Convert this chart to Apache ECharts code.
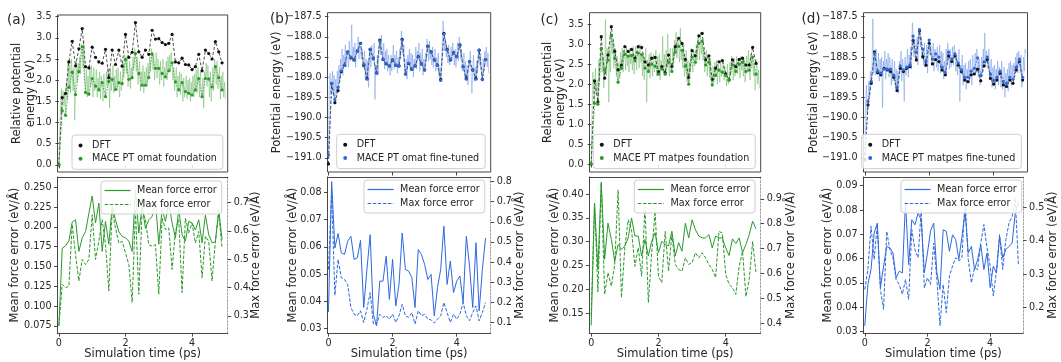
<!DOCTYPE html>
<html><head><meta charset="utf-8">
<script src="https://cdn.jsdelivr.net/npm/echarts@6/dist/echarts.min.js"></script>
<style>html,body{margin:0;padding:0;background:#fff}#c{width:1061px;height:362px}</style>
</head><body><div id="c"></div><script>
// ---------------- DATA ----------------
const TIME = [0,0.1,0.2,0.3,0.4,0.5,0.6,0.7,0.8,0.9,1.0,1.1,1.2,1.3,1.4,1.5,1.6,1.7,1.8,1.9,2.0,2.1,2.2,2.3,2.4,2.5,2.6,2.7,2.8,2.9,3.0,3.1,3.2,3.3,3.4,3.5,3.6,3.7,3.8,3.9,4.0,4.1,4.2,4.3,4.4,4.5,4.6,4.7,4.8,4.9];
const FINE_DT = 0.025; // sampling interval of the continuous MACE trajectory

const A_DFT = [0,1.59,1.69,2.43,2.92,2.34,2.74,3.22,2.32,2.29,2.78,2.54,2.43,2.40,2.73,2.06,2.71,2.37,2.71,2.33,3.08,2.54,2.66,3.36,2.67,2.54,2.71,2.61,3.18,2.97,2.98,2.89,2.84,2.87,3.08,2.43,2.41,2.52,2.37,2.36,2.25,2.32,2.61,2.22,2.71,2.63,2.50,2.91,2.67,2.41];
const A_MACE = [0,1.28,1.17,1.83,2.19,1.66,2.20,2.79,1.71,1.67,2.04,1.86,1.77,1.94,1.61,1.97,2.02,1.78,1.94,1.92,2.49,2.02,2.06,2.63,2.16,1.88,1.88,2.06,2.62,2.28,2.28,2.16,2.08,2.22,2.41,1.96,1.77,1.94,1.73,1.69,1.65,1.77,2.04,1.61,2.04,2.03,1.84,2.32,2.06,1.77];
const A_FINE = [0,0.7,1.45,1.8, 1.28,1.75,1.4,1.65, 1.17,1.95,1.55,2.45, 1.83,2.35,1.7,2.5, 2.19,1.75,2.3,1.05, 1.66,2.45,1.95,2.4, 2.20,2.55,2.15,2.85, 2.79,2.3,2.95,2.05, 1.71,2.25,1.6,2.1, 1.67,2.3,1.85,2.35,
 2.04,1.6,2.3,1.75, 1.86,2.25,1.6,2.05, 1.77,2.2,1.55,2.1, 1.94,1.5,2.15,1.85, 1.61,2.2,1.85,2.3, 1.97,1.35,2.25,1.75, 2.02,2.35,1.7,2.1, 1.78,2.25,1.75,2.3, 1.94,1.6,2.2,1.75, 1.92,2.4,2.05,2.6,
 2.49,2.15,2.6,1.85, 2.02,2.45,1.8,2.3, 2.06,2.55,2.25,2.75, 2.63,2.2,2.55,1.9, 2.16,2.45,1.75,2.2, 1.88,2.35,1.7,2.2, 1.88,2.3,1.85,2.4, 2.06,2.55,2.2,2.75, 2.62,2.25,2.6,2.0, 2.28,2.65,2.05,2.5,
 2.28,1.9,2.45,2.0, 2.16,2.5,1.85,2.3, 2.08,2.45,2.0,2.55, 2.22,2.6,2.2,2.65, 2.41,2.0,2.3,1.75, 1.96,2.3,1.6,2.1, 1.77,2.2,1.65,2.15, 1.94,1.5,2.05,1.6, 1.73,2.1,1.55,2.0, 1.69,2.05,1.5,1.95,
 1.65,2.1,1.6,2.15, 1.77,2.25,1.7,2.3, 2.04,1.6,2.2,1.75, 1.61,2.05,1.35,2.2, 2.04,2.4,1.85,2.35, 2.03,1.6,2.2,1.5, 1.84,2.3,1.75,2.5, 2.32,1.9,2.45,1.8, 2.06,2.3,1.55,2.1, 1.77,2.2,1.6,1.95, 1.55];

const B_DFT = [-191.15,-189.15,-189.63,-189.33,-188.86,-188.70,-188.37,-188.52,-188.57,-188.35,-188.16,-188.70,-189.03,-188.31,-188.53,-188.89,-188.08,-188.56,-188.67,-188.72,-188.57,-188.70,-188.72,-188.06,-188.92,-188.66,-188.80,-188.72,-188.49,-188.67,-188.82,-188.23,-188.37,-188.57,-188.70,-189.05,-187.91,-188.31,-188.57,-188.39,-188.49,-188.20,-188.74,-189.03,-188.61,-188.82,-189.03,-188.33,-189.05,-188.56];
const B_MACE = [-190.93,-189.15,-189.56,-189.25,-188.84,-188.70,-188.38,-188.50,-188.57,-188.36,-188.17,-188.68,-189.05,-188.30,-188.52,-188.90,-188.10,-188.55,-188.66,-188.72,-188.56,-188.70,-188.72,-188.08,-188.92,-188.65,-188.80,-188.72,-188.50,-188.67,-188.82,-188.24,-188.38,-188.57,-188.70,-189.08,-187.93,-188.32,-188.57,-188.40,-188.49,-188.21,-188.74,-189.05,-188.62,-188.82,-189.05,-188.33,-189.06,-188.56];
const B_FINE = [-190.93,-189.3,-188.9,-189.4, -189.15,-188.85,-189.45,-188.95, -189.56,-189.05,-189.4,-188.85, -189.25,-188.7,-189.1,-188.55, -188.84,-188.3,-188.95,-188.45, -188.70,-188.2,-188.75,-188.35, -188.38,-188.75,-188.1,-188.6, -188.50,-187.7,-188.6,-188.25, -188.57,-188.15,-188.75,-188.3, -188.36,-188.0,-188.55,-188.2,
 -188.17,-188.55,-188.3,-188.75, -188.68,-188.35,-189.0,-188.55, -189.05,-188.6,-189.25,-188.7, -188.30,-188.75,-188.2,-188.6, -188.52,-188.15,-189.55,-188.7, -188.90,-188.45,-188.95,-188.3, -188.10,-188.45,-187.95,-188.35, -188.55,-188.15,-188.8,-188.35, -188.66,-188.3,-188.85,-188.45, -188.72,-188.95,-188.45,-188.85,
 -188.56,-188.2,-188.8,-188.45, -188.70,-188.35,-188.9,-188.5, -188.72,-188.3,-188.55,-187.85, -188.08,-188.45,-188.2,-188.65, -188.92,-188.55,-189.05,-188.45, -188.65,-188.3,-188.85,-188.4, -188.80,-188.45,-189.0,-188.55, -188.72,-188.25,-188.8,-188.35, -188.50,-188.15,-188.85,-188.4, -188.67,-188.3,-188.95,-188.55,
 -188.82,-188.4,-188.55,-188.05, -188.24,-188.6,-188.1,-188.55, -188.38,-188.7,-188.25,-188.75, -188.57,-188.3,-188.85,-188.5, -188.70,-188.4,-189.0,-188.75, -189.08,-188.55,-188.2,-187.6, -187.93,-188.35,-188.05,-188.5, -188.32,-188.65,-188.2,-188.7, -188.57,-188.25,-188.6,-188.15, -188.40,-188.7,-188.3,-188.75,
 -188.49,-188.15,-188.6,-188.0, -188.21,-188.55,-188.3,-188.85, -188.74,-188.4,-189.0,-188.6, -189.05,-188.7,-189.2,-188.8, -188.62,-188.35,-188.95,-189.4, -188.82,-188.45,-189.1,-188.75, -189.05,-188.6,-188.9,-188.45, -188.33,-188.7,-188.4,-188.95, -189.06,-188.55,-188.8,-188.35, -188.56,-188.25,-188.75,-188.4, -188.9];

const C_DFT = [0,2.08,1.56,3.19,2.15,2.73,3.44,2.82,2.36,2.48,2.94,2.82,2.87,2.65,2.94,2.92,2.56,2.48,2.65,2.67,2.31,2.44,2.29,2.73,2.44,2.94,3.15,3.02,2.62,2.17,2.84,2.71,3.21,3.27,2.61,2.71,2.12,2.40,2.56,2.59,2.26,2.11,2.61,2.44,2.62,2.65,2.48,2.48,2.92,2.52];
const C_MACE = [0,1.52,1.50,2.90,2.35,2.60,3.22,2.65,2.05,2.40,2.75,2.70,2.72,2.58,2.78,2.74,2.40,2.32,2.50,2.45,2.25,2.38,2.25,2.55,2.32,2.80,2.95,2.85,2.45,2.00,2.68,2.55,3.02,3.08,2.48,2.55,1.98,2.22,2.35,2.30,2.22,2.10,2.48,2.32,2.50,2.55,2.32,2.35,2.68,2.25];
const C_FINE = [0,1.2,2.3,1.9, 1.52,2.4,1.75,2.1, 1.50,2.6,2.05,2.75, 2.90,2.3,2.7,1.9, 2.35,3.62,2.2,2.9, 2.60,1.55,2.85,2.3, 3.22,2.75,3.1,2.4, 2.65,2.9,2.2,2.7, 2.05,2.55,2.15,2.8, 2.40,2.9,2.3,2.85,
 2.75,2.35,2.95,2.45, 2.70,2.3,2.9,2.5, 2.72,2.35,2.95,2.25, 2.58,2.95,2.35,2.85, 2.78,2.4,3.0,2.55, 2.74,2.2,2.75,2.1, 2.40,2.9,1.55,2.6, 2.32,2.75,2.15,2.8, 2.50,2.2,2.75,2.3, 2.45,2.85,2.2,2.7,
 2.25,2.75,2.1,2.6, 2.38,3.2,2.3,2.75, 2.25,2.85,2.4,3.25, 2.55,2.2,2.9,2.4, 2.32,2.9,2.5,3.1, 2.80,3.3,2.65,3.1, 2.95,2.55,3.4,2.6, 2.85,2.4,3.0,2.2, 2.45,2.85,2.05,2.6, 2.00,2.55,2.3,2.9,
 2.68,2.3,2.85,2.45, 2.55,3.0,2.6,3.15, 3.02,2.6,3.3,2.75, 3.08,2.6,2.9,2.3, 2.48,2.85,2.2,2.7, 2.55,2.15,2.65,2.05, 1.98,2.45,2.05,2.55, 2.22,2.6,2.0,2.5, 2.35,2.05,2.55,2.2, 2.30,2.6,2.1,2.45,
 2.22,1.95,2.5,2.0, 2.10,2.55,2.2,2.7, 2.48,2.1,2.65,2.2, 2.32,2.7,2.25,2.6, 2.50,2.15,2.7,2.35, 2.55,2.2,2.6,2.05, 2.32,2.7,2.3,2.85, 2.35,2.1,2.75,2.4, 2.68,2.2,2.5,1.85, 2.25,2.6,2.0,2.35, 1.9];

const D_DFT = [-191.05,-189.69,-189.15,-188.37,-188.89,-188.94,-188.78,-188.82,-188.86,-189.00,-189.33,-188.78,-188.86,-188.78,-188.74,-188.09,-188.57,-187.85,-188.49,-188.70,-188.16,-188.67,-188.56,-188.61,-188.82,-188.94,-188.47,-188.61,-188.47,-188.70,-188.86,-189.07,-189.11,-188.94,-188.92,-188.80,-189.09,-188.72,-188.56,-189.03,-189.17,-189.07,-188.90,-189.19,-189.23,-189.07,-189.15,-188.82,-188.61,-189.07];
const D_MACE = [-190.90,-189.60,-189.10,-188.40,-188.85,-188.90,-188.80,-188.80,-188.80,-188.95,-189.25,-188.72,-188.82,-188.75,-188.70,-187.98,-188.38,-187.82,-188.30,-188.60,-188.08,-188.55,-188.42,-188.50,-188.75,-188.88,-188.38,-188.55,-188.42,-188.65,-188.82,-189.00,-189.00,-188.85,-188.78,-188.52,-188.95,-188.62,-188.50,-188.92,-189.08,-189.00,-188.85,-189.10,-189.15,-189.00,-189.05,-188.75,-188.55,-189.00];
const D_FINE = [-190.9,-189.6,-189.2,-189.9, -189.60,-189.1,-189.5,-188.85, -189.10,-188.7,-187.55,-188.9, -188.40,-188.95,-188.3,-188.75, -188.85,-188.4,-189.1,-188.55, -188.90,-188.5,-189.75,-188.6, -188.80,-188.35,-189.05,-188.55, -188.80,-188.4,-189.0,-188.5, -188.80,-189.2,-188.55,-189.1, -188.95,-188.6,-189.3,-188.8,
 -189.25,-188.85,-189.4,-188.6, -188.72,-188.35,-189.1,-188.55, -188.82,-189.6,-188.5,-188.95, -188.75,-188.3,-189.0,-188.45, -188.70,-188.25,-188.8,-187.65, -187.98,-188.5,-188.05,-188.6, -188.38,-188.0,-188.7,-187.85, -187.82,-188.25,-188.0,-188.55, -188.30,-188.7,-188.15,-188.75, -188.60,-188.2,-188.9,-188.35,
 -188.08,-188.45,-188.2,-188.7, -188.55,-188.15,-188.85,-188.3, -188.42,-188.75,-188.25,-188.85, -188.50,-188.2,-188.9,-188.35, -188.75,-188.4,-189.05,-188.6, -188.88,-188.3,-188.65,-188.15, -188.38,-188.8,-188.3,-188.75, -188.55,-188.25,-188.7,-188.2, -188.42,-188.85,-188.45,-188.95, -188.65,-188.3,-189.6,-188.7,
 -188.82,-188.45,-189.2,-188.7, -189.00,-188.65,-189.3,-188.8, -189.00,-188.6,-189.15,-188.55, -188.85,-189.2,-188.45,-188.95, -188.78,-188.4,-188.9,-188.3, -188.52,-189.0,-188.55,-189.2, -188.95,-188.5,-188.9,-188.3, -188.62,-187.9,-188.75,-188.35, -188.50,-188.8,-188.3,-189.0, -188.92,-188.55,-189.25,-188.75,
 -189.08,-188.7,-189.3,-188.8, -189.00,-188.6,-189.2,-188.75, -188.85,-189.25,-188.6,-189.3, -189.10,-188.75,-189.5,-188.9, -189.15,-188.8,-189.35,-188.65, -189.00,-188.6,-189.2,-188.7, -189.05,-188.65,-188.95,-188.5, -188.75,-188.4,-188.9,-188.35, -188.55,-188.9,-188.45,-189.25, -189.00,-188.5,-188.85,-188.3, -188.4];

const A_MEAN = [0.075,0.173,0.176,0.182,0.206,0.209,0.169,0.186,0.194,0.217,0.239,0.205,0.230,0.169,0.207,0.178,0.226,0.209,0.194,0.188,0.186,0.182,0.169,0.247,0.192,0.226,0.198,0.209,0.213,0.232,0.178,0.222,0.207,0.230,0.205,0.186,0.222,0.190,0.182,0.207,0.205,0.196,0.209,0.180,0.215,0.190,0.180,0.181,0.222,0.184];
const A_MAX = [0.265,0.411,0.399,0.405,0.622,0.516,0.423,0.499,0.481,0.499,0.657,0.499,0.563,0.639,0.551,0.388,0.674,0.610,0.557,0.563,0.522,0.481,0.347,0.674,0.376,0.674,0.639,0.551,0.546,0.551,0.376,0.645,0.604,0.610,0.464,0.598,0.639,0.382,0.645,0.592,0.627,0.557,0.598,0.435,0.581,0.563,0.423,0.563,0.663,0.540];
const B_MEAN = [0.0361,0.0840,0.0596,0.0649,0.0578,0.0572,0.0621,0.0639,0.0554,0.0560,0.0624,0.0377,0.0517,0.0645,0.0352,0.0310,0.0474,0.0474,0.0566,0.0407,0.0554,0.0383,0.0462,0.0651,0.0517,0.0511,0.0487,0.0377,0.0590,0.0572,0.0535,0.0480,0.0499,0.0346,0.0450,0.0517,0.0676,0.0462,0.0548,0.0432,0.0474,0.0493,0.0395,0.0639,0.0529,0.0377,0.0615,0.0365,0.0517,0.0633];
const B_MAX = [0.363,0.751,0.235,0.413,0.322,0.314,0.289,0.174,0.141,0.133,0.158,0.100,0.166,0.248,0.092,0.092,0.141,0.125,0.133,0.116,0.141,0.100,0.133,0.190,0.133,0.125,0.149,0.092,0.158,0.133,0.141,0.116,0.113,0.097,0.116,0.133,0.199,0.149,0.100,0.141,0.116,0.141,0.199,0.133,0.108,0.149,0.182,0.108,0.149,0.199];
const C_MEAN = [0.124,0.381,0.242,0.425,0.263,0.339,0.305,0.259,0.294,0.284,0.291,0.308,0.350,0.312,0.312,0.270,0.305,0.270,0.301,0.319,0.277,0.301,0.294,0.291,0.322,0.270,0.298,0.280,0.339,0.308,0.346,0.325,0.312,0.308,0.308,0.315,0.287,0.312,0.308,0.308,0.287,0.271,0.306,0.296,0.308,0.277,0.294,0.315,0.343,0.327];
const C_MAX = [0.43,0.883,0.525,0.963,0.516,0.603,0.549,0.636,0.936,0.503,0.703,0.816,0.776,0.629,0.703,0.589,0.869,0.483,0.683,0.849,0.589,0.563,0.769,0.609,0.756,0.636,0.616,0.609,0.663,0.636,0.643,0.683,0.663,0.683,0.663,0.636,0.616,0.583,0.769,0.763,0.596,0.556,0.543,0.516,0.629,0.689,0.507,0.576,0.729,0.603];
const D_MEAN = [0.0323,0.0494,0.0555,0.0705,0.0746,0.0480,0.0569,0.0650,0.0644,0.0623,0.0521,0.0548,0.0541,0.0835,0.0575,0.0760,0.0739,0.0787,0.0760,0.0541,0.0623,0.0715,0.0746,0.0541,0.0473,0.0719,0.0712,0.0630,0.0698,0.0678,0.0596,0.0691,0.0794,0.0623,0.0650,0.0555,0.0596,0.0657,0.0555,0.0623,0.0480,0.0569,0.0541,0.0691,0.0603,0.0637,0.0650,0.0664,0.0787,0.0835];
const D_MAX = [0.254,0.314,0.443,0.344,0.448,0.254,0.195,0.428,0.373,0.349,0.284,0.269,0.240,0.284,0.225,0.433,0.373,0.349,0.492,0.259,0.289,0.269,0.393,0.284,0.146,0.269,0.185,0.294,0.324,0.349,0.339,0.349,0.522,0.344,0.274,0.319,0.314,0.393,0.448,0.378,0.324,0.235,0.309,0.418,0.314,0.403,0.452,0.472,0.527,0.329];

const X_TICKS = [0,2,4];
const REL_E_TICKS = [0,0.5,1.0,1.5,2.0,2.5,3.0,3.5];
const ABS_E_TICKS = [-191.0,-190.5,-190.0,-189.5,-189.0,-188.5,-188.0,-187.5];
const A_MEAN_TICKS = [0.075,0.100,0.125,0.150,0.175,0.200,0.225,0.250];
const A_MAX_TICKS = [0.3,0.4,0.5,0.6,0.7];
const B_MEAN_TICKS = [0.03,0.04,0.05,0.06,0.07,0.08];
const B_MAX_TICKS = [0.1,0.2,0.3,0.4,0.5,0.6,0.7,0.8];
const C_MEAN_TICKS = [0.15,0.20,0.25,0.30,0.35,0.40];
const C_MAX_TICKS = [0.4,0.5,0.6,0.7,0.8,0.9];
const D_MEAN_TICKS = [0.03,0.04,0.05,0.06,0.07,0.08,0.09];
const D_MAX_TICKS = [0.2,0.3,0.4,0.5];

const PANEL_LABELS = ['(a)','(b)','(c)','(d)'];
const MODEL_NAMES = ['MACE PT omat foundation','MACE PT omat fine-tuned','MACE PT matpes foundation','MACE PT matpes fine-tuned'];
const MEAN_NAME = 'Mean force error', MAX_NAME = 'Max force error';

// ---------------- STYLE / LAYOUT ----------------
const FONT = 'DejaVu Sans';
const TXT = '#262626';
const GREEN = '#2b9a2b', GREEN_L = 'rgba(70,165,60,0.42)';
const BLUE = '#2f68dc', BLUE_L = 'rgba(70,120,225,0.42)';

const P = [
  {dft:A_DFT, mace:A_MACE, fine:A_FINE, mean:A_MEAN, max:A_MAX, col:GREEN, light:GREEN_L,
   left:57.5, width:170.2, topY:15, topH:157, xr:[-0.042,5.07], er:[-0.17,3.54], eTicks:REL_E_TICKS, eDec:1,
   eName:'Relative potential\nenergy (eV)', eGap:20, mr:[0.0658,0.263], mTicks:A_MEAN_TICKS, mDec:3, mGap:35.5,
   xr2:[0.239,0.790], xTicks2:A_MAX_TICKS, rGap:21.5, lab:[7,13], legT:[72,135], legB:[101,181]},
  {dft:B_DFT, mace:B_MACE, fine:B_FINE, mean:B_MEAN, max:B_MAX, col:BLUE, light:BLUE_L,
   left:327.5, width:163.2, topY:12.7, topH:159.3, xr:[-0.03,5.06], er:[-191.35,-187.40], eTicks:ABS_E_TICKS, eDec:1,
   eName:'Potential energy (eV)', eGap:43.5, mr:[0.0283,0.0857], mTicks:B_MEAN_TICKS, mDec:2, mGap:27.5,
   xr2:[0.047,0.823], xTicks2:B_MAX_TICKS, rGap:22.3, lab:[270,12], legT:[336.7,134.3], legB:[364,180]},
  {dft:C_DFT, mace:C_MACE, fine:C_FINE, mean:C_MEAN, max:C_MAX, col:GREEN, light:GREEN_L,
   left:589.5, width:171.2, topY:12.7, topH:159.3, xr:[-0.05,5.04], er:[-0.20,3.79], eTicks:REL_E_TICKS, eDec:1,
   eName:'Relative potential\nenergy (eV)', eGap:21.8, mr:[0.108,0.436], mTicks:C_MEAN_TICKS, mDec:2, mGap:27.5,
   xr2:[0.36,0.988], xTicks2:C_MAX_TICKS, rGap:23.9, lab:[540.5,13], legT:[593.3,134.3], legB:[634.3,180]},
  {dft:D_DFT, mace:D_MACE, fine:D_FINE, mean:D_MEAN, max:D_MAX, col:BLUE, light:BLUE_L,
   left:863.5, width:164, topY:12.7, topH:159.3, xr:[-0.04,5.05], er:[-191.35,-187.40], eTicks:ABS_E_TICKS, eDec:1,
   eName:'Potential energy (eV)', eGap:42.8, mr:[0.0293,0.0936], mTicks:D_MEAN_TICKS, mDec:2, mGap:28.8,
   xr2:[0.124,0.590], xTicks2:D_MAX_TICKS, rGap:23.5, lab:[801.5,12], legT:[861.7,134.3], legB:[901,180]}
];
const BOT_TOP = 177, BOT_H = 157;

function fmt(d){ return v => v.toFixed(d).replace('-', '\u2212'); }
const tickStyle = {show:true, length:3.5, lineStyle:{color:'#333', width:0.9}};
const labelBase = {fontFamily:FONT, fontSize:9.6, color:TXT};
const nameStyle = {fontFamily:FONT, fontSize:11.5, color:TXT, lineHeight:13.4};

const grid = [], xAxis = [], yAxis = [], series = [], legend = [], title = [];

P.forEach((p, k) => {
  grid[k] = {left:p.left, top:p.topY, width:p.width, height:p.topH, show:true, borderColor:'#333', borderWidth:0.9, backgroundColor:'transparent'};
  grid[4+k] = {left:p.left, top:BOT_TOP, width:p.width, height:BOT_H, show:false};

  xAxis[k] = {type:'value', gridIndex:k, min:p.xr[0], max:p.xr[1], axisLine:{show:false},
    axisTick:Object.assign({customValues:X_TICKS}, tickStyle), axisLabel:{show:false}, splitLine:{show:false}};
  xAxis[4+k] = {type:'value', gridIndex:4+k, min:p.xr[0], max:p.xr[1], position:'bottom',
    axisLine:{show:true, onZero:false, lineStyle:{color:'#333', width:0.9}},
    axisTick:Object.assign({customValues:X_TICKS}, tickStyle),
    axisLabel:Object.assign({customValues:X_TICKS, margin:5, formatter:fmt(0)}, labelBase),
    splitLine:{show:false}, name:'Simulation time (ps)', nameLocation:'middle', nameGap:14.5, nameMoveOverlap:false, nameTextStyle:nameStyle};
  xAxis[8+k] = {type:'value', gridIndex:4+k, min:p.xr[0], max:p.xr[1], position:'top',
    axisLine:{show:true, onZero:false, lineStyle:{color:'#333', width:0.9}}, axisTick:{show:false}, axisLabel:{show:false}, splitLine:{show:false}};

  yAxis[k] = {type:'value', gridIndex:k, min:p.er[0], max:p.er[1], axisLine:{show:false},
    axisTick:Object.assign({customValues:p.eTicks}, tickStyle),
    axisLabel:Object.assign({customValues:p.eTicks, margin:6, formatter:fmt(p.eDec)}, labelBase),
    splitLine:{show:false}, name:p.eName, nameLocation:'middle', nameRotate:90, nameGap:p.eGap, nameMoveOverlap:false, nameTextStyle:nameStyle};
  yAxis[4+k] = {type:'value', gridIndex:4+k, position:'left', min:p.mr[0], max:p.mr[1],
    axisLine:{show:true, onZero:false, lineStyle:{color:'#333', width:0.9}},
    axisTick:Object.assign({customValues:p.mTicks}, tickStyle),
    axisLabel:Object.assign({customValues:p.mTicks, margin:6, formatter:fmt(p.mDec)}, labelBase),
    splitLine:{show:false}, name:'Mean force error (eV/\u00c5)', nameLocation:'middle', nameRotate:90, nameGap:p.mGap, nameMoveOverlap:false, nameTextStyle:nameStyle};
  yAxis[8+k] = {type:'value', gridIndex:4+k, position:'right', min:p.xr2[0], max:p.xr2[1],
    axisLine:{show:true, onZero:false, lineStyle:{color:'#9a9a9a', width:0.9, type:[2,1.5]}},
    axisTick:Object.assign({customValues:p.xTicks2}, tickStyle),
    axisLabel:Object.assign({customValues:p.xTicks2, margin:6, formatter:fmt(1)}, labelBase),
    splitLine:{show:false}, name:'Max force error (eV/\u00c5)', nameLocation:'middle', nameRotate:90, nameGap:p.rGap, nameMoveOverlap:false, nameTextStyle:nameStyle};

  const fine = p.fine.map((v, i) => [i * FINE_DT, v]);
  series.push({type:'line', xAxisIndex:k, yAxisIndex:k, data:fine, symbol:'none', silent:true,
    lineStyle:{color:p.light, width:0.9}, z:1, clip:true});
  series.push({type:'line', name:'DFT', xAxisIndex:k, yAxisIndex:k, data:TIME.map((t,i)=>[t,p.dft[i]]),
    symbol:'circle', symbolSize:3.2, itemStyle:{color:'#111'}, lineStyle:{color:'#222', width:0.8, type:[3,2]}, z:2, clip:true});
  series.push({type:'line', name:MODEL_NAMES[k], xAxisIndex:k, yAxisIndex:k, data:TIME.map((t,i)=>[t,p.mace[i]]),
    symbol:'circle', symbolSize:3.2, itemStyle:{color:p.col}, lineStyle:{color:p.col, width:0.8, type:[1.5,1.5]}, z:3, clip:true});

  // per-panel series ids for the force legends (displayed text stripped of the suffix)
  const meanId = MEAN_NAME + ' #' + k, maxId = MAX_NAME + ' #' + k;
  series.push({type:'line', name:meanId, xAxisIndex:4+k, yAxisIndex:4+k, data:TIME.map((t,i)=>[t,p.mean[i]]),
    symbol:'none', itemStyle:{color:p.col}, lineStyle:{color:p.col, width:1}, z:2, clip:true});
  series.push({type:'line', name:maxId, xAxisIndex:4+k, yAxisIndex:8+k, data:TIME.map((t,i)=>[t,p.max[i]]),
    symbol:'none', itemStyle:{color:p.col}, lineStyle:{color:p.col, width:1, type:[3.5,1.6]}, z:2, clip:true});

  const legCommon = {orient:'vertical', selectedMode:false, backgroundColor:'rgba(255,255,255,0.85)',
    borderColor:'#cfcfcf', borderWidth:1, borderRadius:3, z:10};
  legend.push(Object.assign({}, legCommon, {left:p.legT[0], top:p.legT[1], padding:[5,6,5,6.5], itemGap:2.3,
    itemWidth:4, itemHeight:4,
    textStyle:{fontFamily:FONT, fontSize:9.6, color:TXT, lineHeight:11, padding:[0,0,0,4.5]},
    data:[{name:'DFT', icon:'circle', itemStyle:{color:'#111'}},
          {name:MODEL_NAMES[k], icon:'circle', itemStyle:{color:p.col}}]}));
  legend.push(Object.assign({}, legCommon, {left:p.legB[0], top:p.legB[1], padding:[4,5,4,3], itemGap:3,
    itemWidth:26, itemHeight:10,
    lineStyle:{color:p.col, width:1.2, type:'inherit'},
    formatter: n => n.replace(/ #\d$/, ''),
    textStyle:{fontFamily:FONT, fontSize:9.6, color:TXT, lineHeight:11, padding:[0,0,0,1.5]},
    data:[{name:meanId, itemStyle:{opacity:0}}, {name:maxId, itemStyle:{opacity:0}}]}));

  title.push({text:PANEL_LABELS[k], left:p.lab[0], top:p.lab[1], padding:0,
    textStyle:{fontFamily:FONT, fontSize:13.5, fontWeight:'normal', color:TXT}});
});

const chart = echarts.init(document.getElementById('c'), null, {renderer:'canvas'});
chart.setOption({animation:false, backgroundColor:'#fff', title, grid, xAxis, yAxis, series, legend});
</script></body></html>
